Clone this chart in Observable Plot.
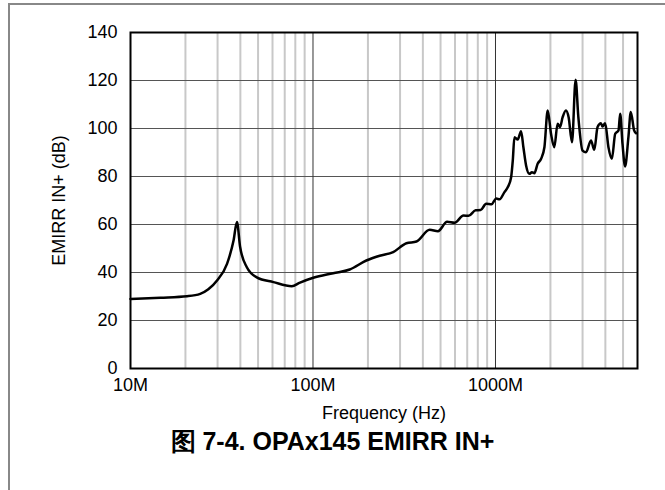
<!DOCTYPE html>
<html><head><meta charset="utf-8">
<script src="https://cdn.jsdelivr.net/npm/d3@7"></script>
<script src="https://cdn.jsdelivr.net/npm/@observablehq/plot@0.6"></script>
<style>
body{margin:0;background:#fff;font-family:"Liberation Sans",Arial,sans-serif;}
#wrap{position:relative;width:665px;height:490px;overflow:hidden;background:#fff}
#border{position:absolute;left:8px;top:3px;width:700px;height:600px;border-left:2px solid #888;border-top:2px solid #888}
#chart{position:absolute;left:0;top:0}
#cap{position:absolute;left:0;width:665px;top:425px;text-align:center;font-weight:bold;font-size:25px;color:#000}
</style></head>
<body>
<div id="wrap"><div id="border"></div><div id="chart"></div><div id="cap">图 7-4. OPAx145 EMIRR IN+</div></div>
<script>
// Frequency in MHz
const freqMHz = [10, 14.6, 20.4, 24.1, 26.7, 29.8, 33.8, 36.7, 38.3, 39.9, 43.4, 49.2, 60.7, 76.5, 84.9,
  100.4, 129, 159, 196, 232, 275, 325, 369, 436, 484, 543, 597, 668, 712, 778, 828, 889, 951,
  1009, 1052, 1120, 1167, 1218, 1244, 1270, 1324, 1381, 1422, 1471, 1534, 1585, 1633, 1702, 1778,
  1854, 1932, 2015, 2100, 2190, 2256, 2333, 2433, 2516, 2626, 2748, 2843, 3000, 3132, 3337, 3478,
  3625, 3783, 3857, 3990, 4159, 4343, 4529, 4722, 4822, 4966, 5130, 5350, 5512, 5750, 5890];
// EMIRR IN+ in dB
const emirrDb = [29.0, 29.5, 30.1, 31.1, 33, 36.7, 43.6, 53.3, 61, 50.5, 42.2, 38, 36, 34.3, 35.8,
  37.8, 39.7, 41.25, 45, 47, 48.5, 52.2, 52.9, 57.8, 57.2, 61.1, 60.7, 63.75, 63.6, 65.9, 66, 68.6, 68.4,
  70.8, 70.5, 73.5, 75.5, 79.7, 86.7, 96.4, 95.4, 98.9, 92.2, 84.6, 81.1, 81.8, 81.4, 85.3, 87.4,
  92.2, 107.5, 97.8, 92.2, 102, 100.6, 104.7, 107.5, 104.7, 94.3, 120.3, 105, 90.8, 90.1, 95, 91.1,
  100.6, 102.2, 100.8, 102.2, 92.2, 87.4, 97.8, 99.2, 106.1, 93.6, 84.2, 96.4, 106.9, 99.2, 98];
const yTicks = [0, 20, 40, 60, 80, 100, 120, 140];
const xMajor = [1e7, 1e8, 1e9];
const xTickLabels = ["10M", "100M", "1000M"];
const xMinor = [2e7,3e7,4e7,5e7,6e7,7e7,8e7,9e7,2e8,3e8,4e8,5e8,6e8,7e8,8e8,9e8,2e9,3e9,4e9,5e9];

const data = freqMHz.map((f, i) => ({f: f * 1e6, db: emirrDb[i]}));
const fmtX = d => xTickLabels[xMajor.findIndex(v => Math.abs(v - d) < 1)];

const chart = Plot.plot({
  width: 665, height: 430,
  marginLeft: 130, marginRight: 28, marginTop: 32, marginBottom: 62,
  style: {fontSize: "17px", fontFamily: "Liberation Sans, Arial, sans-serif", background: "transparent", color: "#000"},
  x: {type: "log", domain: [1e7, 6e9]},
  y: {domain: [0, 140]},
  marks: [
    Plot.ruleX(xMinor, {stroke: "#c8c8c8", strokeWidth: 2}),
    Plot.ruleY(yTicks.slice(1, -1), {stroke: "#555", strokeWidth: 1}),
    Plot.ruleX(xMajor.slice(1), {stroke: "#333", strokeWidth: 1}),
    Plot.line(data, {x: "f", y: "db", curve: "monotone-x", stroke: "#000", strokeWidth: 2.5}),
    Plot.frame({stroke: "#000", strokeWidth: 2}),
    Plot.axisX({ticks: xMajor, tickFormat: fmtX, tickSize: 0, tickPadding: 10, fontSize: 18,
      label: "Frequency (Hz)", labelAnchor: "center", labelArrow: "none", labelOffset: 50}),
    Plot.axisY({ticks: yTicks, tickSize: 0, tickPadding: 13, fontSize: 18,
      label: "EMIRR IN+ (dB)", labelAnchor: "center", labelArrow: "none", labelOffset: 78})
  ]
});
document.getElementById("chart").append(chart);
</script>
</body></html>
